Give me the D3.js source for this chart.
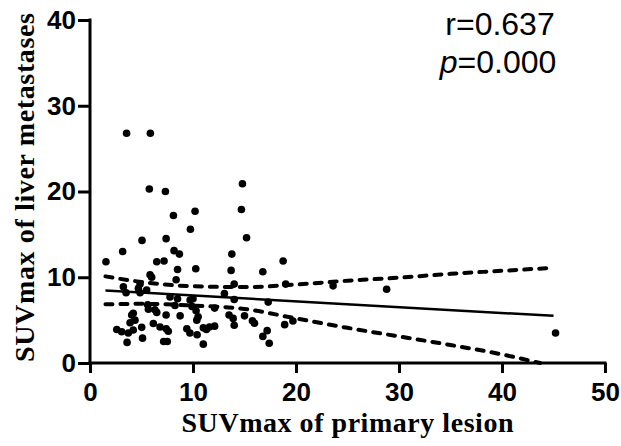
<!DOCTYPE html>
<html>
<head>
<meta charset="utf-8">
<script src="https://cdn.jsdelivr.net/npm/d3@7"></script>
<style>
  body { margin: 0; background: #fff; }
</style>
</head>
<body>
<script>
// scatter points: SUVmax of primary lesion (x) vs liver metastases (y)
let pointsX = [3.55, 5.86, 5.76, 7.32, 14.8, 14.7, 10.2, 8.1, 9.75, 15.2, 5.05, 7.39,
    3.17, 8.16, 8.68, 13.77, 1.55, 6.48, 7.19, 18.75, 8.5, 10.27, 13.7, 16.78, 5.83, 5.99, 8.36,
    14.0, 19.0, 23.6, 28.8, 4.86, 3.24, 4.7, 3.5, 4.86, 5.5, 13.05,
    7.77, 8.5, 9.72, 10.0, 14.0, 17.3, 5.6, 8.25, 9.9, 12.1,
    5.67, 6.3, 10.3, 4.2, 6.48, 7.39, 8.75, 10.5, 13.5, 13.9, 15.0, 4.05, 4.37, 10.37,
    15.77, 15.97, 18.9, 19.7, 14.0, 3.89, 5.02, 6.15, 6.8, 7.4, 7.6, 9.4, 9.7, 11.0, 11.3, 11.6, 12.1,
    2.6, 3.08, 3.72, 4.2, 17.2, 16.78, 45.2, 10.4, 3.6, 5.1, 7.15, 7.5, 11.0, 17.4];
let pointsY = [26.8, 26.8, 20.3, 20.0, 20.9, 17.9, 17.7, 17.2, 15.6, 14.6, 14.3, 14.5,
    13.0, 13.1, 12.7, 12.7, 11.8, 11.8, 11.9, 11.9, 10.9, 11.0, 10.8, 10.65, 10.3, 10.0, 9.7,
    9.2, 9.2, 9.0, 8.6, 9.2, 8.9, 8.7, 8.2, 8.2, 8.5, 8.1,
    7.7, 7.5, 7.35, 7.5, 7.4, 7.1, 6.8, 6.7, 6.6, 6.4,
    6.26, 6.2, 6.1, 5.8, 5.9, 5.6, 5.5, 5.4, 5.6, 5.2, 5.5, 5.6, 5.0, 5.0,
    4.93, 4.63, 4.47, 4.9, 4.4, 4.7, 4.16, 4.6, 4.2, 4.0, 3.7, 4.0, 3.5, 4.1, 3.9, 4.2, 4.3,
    3.9, 3.65, 3.5, 3.85, 3.77, 3.1, 3.5, 3.3, 2.4, 2.9, 2.5, 2.5, 2.2, 2.3];

// regression line and 95% band
let fitX = [1.5, 45];
let fitY = [8.45, 5.5];
let upperX = [1.5, 5, 10, 15, 20, 25, 30, 35, 40, 45];
let upperY = [10.1, 9.45, 8.95, 8.85, 9.15, 9.6, 9.95, 10.4, 10.75, 11.1];
let lowerX = [1.5, 5, 10, 15, 20, 25, 30, 35, 40, 43.7];
let lowerY = [6.85, 6.9, 6.7, 6.3, 5.2, 4.1, 3.1, 2.1, 1.0, 0.0];

let xTicks = [0, 10, 20, 30, 40, 50];
let yTicks = [0, 10, 20, 30, 40];

function main(){
    let width = 621, height = 446;
    let left = 90, right = 605, top = 20, bottom = 363;

    let svg = d3.select("body").append("svg")
        .attr("width", width)
        .attr("height", height);

    let x = d3.scaleLinear().domain([0, 50]).range([left, right]);
    let y = d3.scaleLinear().domain([0, 40]).range([bottom, top]);

    let xAxis = svg.append("g")
        .attr("transform", "translate(0," + bottom + ")")
        .call(d3.axisBottom(x).tickValues(xTicks).tickSize(10).tickPadding(10).tickSizeOuter(0));
    let yAxis = svg.append("g")
        .attr("transform", "translate(" + left + ",0)")
        .call(d3.axisLeft(y).tickValues(yTicks).tickSize(12).tickPadding(2).tickSizeOuter(0));

    [xAxis, yAxis].forEach(function(g){
        g.select(".domain").attr("stroke", "#000").attr("stroke-width", 3);
        g.selectAll(".tick line").attr("stroke", "#000").attr("stroke-width", 3);
        g.selectAll(".tick text")
            .attr("fill", "#000")
            .style("font-family", "'Liberation Sans Narrow', 'Arial Narrow', 'Liberation Sans', Arial, sans-serif")
            .style("font-weight", "bold")
            .style("font-size", "26px");
    });
    xAxis.select(".domain").attr("d", "M" + (left - 1.5) + ",0H" + (right + 1.5));
    yAxis.select(".domain").attr("d", "M0," + (bottom + 1.5) + "V" + (top - 1.5));

    let line = d3.line()
        .x(function(d){ return x(d[0]); })
        .y(function(d){ return y(d[1]); })
        .curve(d3.curveMonotoneX);

    [d3.zip(upperX, upperY), d3.zip(lowerX, lowerY)].forEach(function(band){
        svg.append("path")
            .datum(band)
            .attr("d", line)
            .attr("fill", "none")
            .attr("stroke", "#000")
            .attr("stroke-width", 4)
            .attr("stroke-linecap", "round")
            .attr("stroke-dasharray", "7,8");
    });

    svg.append("path")
        .datum(d3.zip(fitX, fitY))
        .attr("d", line)
        .attr("fill", "none")
        .attr("stroke", "#000")
        .attr("stroke-width", 2.5);

    svg.selectAll("circle.pt")
        .data(d3.zip(pointsX, pointsY))
        .enter()
        .append("circle")
        .attr("class", "pt")
        .attr("cx", function(d){ return x(d[0]); })
        .attr("cy", function(d){ return y(d[1]); })
        .attr("r", 3.8)
        .attr("fill", "#000");

    // axis titles
    svg.append("text")
        .attr("x", (left + right) / 2)
        .attr("y", 432)
        .attr("text-anchor", "middle")
        .attr("textLength", 332)
        .attr("lengthAdjust", "spacing")
        .style("font-family", "'Liberation Serif', 'Times New Roman', serif")
        .style("font-weight", "bold")
        .style("font-size", "28px")
        .text("SUVmax of primary lesion");

    svg.append("text")
        .attr("transform", "translate(34," + 187.5 + ") rotate(-90)")
        .attr("text-anchor", "middle")
        .attr("textLength", 349)
        .attr("lengthAdjust", "spacing")
        .style("font-family", "'Liberation Serif', 'Times New Roman', serif")
        .style("font-weight", "bold")
        .style("font-size", "28px")
        .text("SUVmax of liver metastases");

    // statistics
    svg.append("text")
        .attr("x", 500)
        .attr("y", 35)
        .attr("text-anchor", "middle")
        .style("font-family", "'Liberation Sans', Arial, sans-serif")
        .style("font-size", "32px")
        .text("r=0.637");

    let pText = svg.append("text")
        .attr("x", 498)
        .attr("y", 73)
        .attr("text-anchor", "middle")
        .style("font-family", "'Liberation Sans', Arial, sans-serif")
        .style("font-size", "32px");
    pText.append("tspan").style("font-style", "italic").text("p");
    pText.append("tspan").text("=0.000");
}

main();
</script>
</body>
</html>
